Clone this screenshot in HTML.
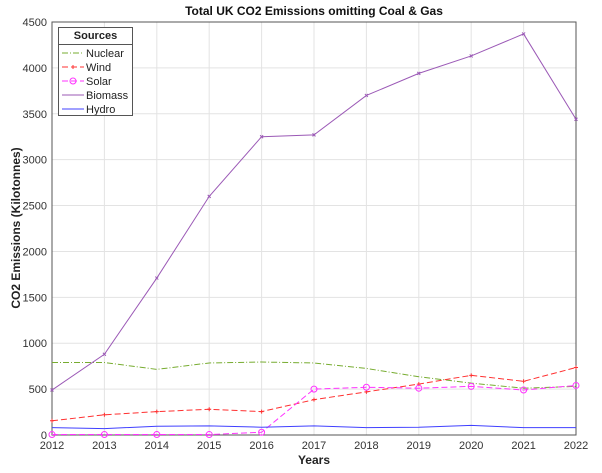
<!DOCTYPE html>
<html><head><meta charset="utf-8"><style>
body{margin:0;background:#fff;font-family:"Liberation Sans",Arial,sans-serif}
svg{display:block}
</style></head><body>
<svg id="chart" width="602" height="473"></svg>
<script>
const years=[2012,2013,2014,2015,2016,2017,2018,2019,2020,2021,2022];
const nuclear=[790,790,715,785,795,785,725,635,565,510,530];
const wind=[155,220,255,280,255,385,470,555,650,585,735];
const solar=[5,5,5,5,30,500,520,510,530,490,540];
const biomass=[490,880,1710,2600,3250,3270,3700,3940,4130,4370,3440];
const hydro=[80,70,95,100,85,100,80,85,105,80,80];
const yTicks=[0,500,1000,1500,2000,2500,3000,3500,4000,4500];
const L=52,R=576,T=22,B=435;
const xs=v=>L+(v-2012)/10*(R-L);
const ys=v=>B-v/4500*(B-T);
const NS="http://www.w3.org/2000/svg";
const svg=document.getElementById('chart');
function mk(tag,attrs,parent){const e=document.createElementNS(NS,tag);for(const k in attrs)e.setAttribute(k,attrs[k]);(parent||svg).appendChild(e);return e;}
const grid=mk('g',{});


years.forEach(y=>{mk('line',{x1:xs(y),x2:xs(y),y1:T,y2:B,stroke:'#e3e3e3','stroke-width':1},grid);
const t=mk('text',{x:xs(y),y:B+14,'text-anchor':'middle','font-size':11,fill:'#333'});t.textContent=y;

});
yTicks.forEach(v=>{mk('line',{x1:L,x2:R,y1:ys(v),y2:ys(v),stroke:'#e3e3e3','stroke-width':1},grid);
const t=mk('text',{x:L-5,y:ys(v)+4,'text-anchor':'end','font-size':11,fill:'#333'});t.textContent=v;

});
const frame=mk('rect',{x:L,y:T,width:R-L,height:B-T,fill:'none',stroke:'#555','stroke-width':1});


const series=[
 {name:'nuclear',d:nuclear,c:'#77ac30',dash:'6 2 1 2',m:null},
 {name:'wind',d:wind,c:'#ff3030',dash:'6 3',m:'star'},
 {name:'solar',d:solar,c:'#ff33ff',dash:'6 3',m:'circle'},
 {name:'biomass',d:biomass,c:'#9b59b6',dash:'',m:'x'},
 {name:'hydro',d:hydro,c:'#4040ff',dash:'',m:null}];
series.forEach(s=>{
 const g=mk('g',{});
 
 
 const pts=s.d.map((v,i)=>xs(years[i])+','+ys(v)).join(' ');
 mk('polyline',{points:pts,fill:'none',stroke:s.c,'stroke-width':1,'stroke-dasharray':s.dash},g);
 s.d.forEach((v,i)=>{const x=xs(years[i]),y=ys(v);
  if(s.m==='circle')mk('circle',{cx:x,cy:y,r:3,fill:'none',stroke:s.c},g);
  else if(s.m==='star'){mk('path',{d:`M${x-2},${y}h4M${x},${y-2}v4`,stroke:s.c},g);}
  else if(s.m==='x'){mk('path',{d:`M${x-1.5},${y-1.5}l3,3M${x+1.5},${y-1.5}l-3,3`,stroke:s.c},g);}
 });
});
</script>
<div style="position:absolute;left:58px;top:27px;width:73px;height:87px;border:1px solid #555;background:#fff;font-size:11px;color:#222">
<div style="font-weight:bold;text-align:center;height:16px;line-height:16px;border-bottom:1px solid #555">Sources</div>
<svg width="73" height="70" style="position:absolute;left:0;top:17px">
<g><line x1="3" x2="25" y1="8" y2="8" stroke="#77ac30" stroke-dasharray="6 2 1 2"/><text x="27" y="12" font-size="11" fill="#222">Nuclear</text></g>
<g><line x1="3" x2="25" y1="22" y2="22" stroke="#ff3030" stroke-dasharray="6 3"/><path d="M12,22h4M14,20v4" stroke="#ff3030"/><text x="27" y="26" font-size="11" fill="#222">Wind</text></g>
<g><line x1="3" x2="25" y1="36" y2="36" stroke="#ff33ff" stroke-dasharray="6 3"/><circle cx="14" cy="36" r="3" fill="none" stroke="#ff33ff"/><text x="27" y="40" font-size="11" fill="#222">Solar</text></g>
<g><line x1="3" x2="25" y1="50" y2="50" stroke="#9b59b6"/><text x="27" y="54" font-size="11" fill="#222">Biomass</text></g>
<g><line x1="3" x2="25" y1="64" y2="64" stroke="#4040ff"/><text x="27" y="68" font-size="11" fill="#222">Hydro</text></g>
</svg></div>
<div style="position:absolute;left:52px;width:524px;top:4px;text-align:center;font-weight:bold;font-size:12px;color:#111">Total UK CO2 Emissions omitting Coal &amp; Gas</div>
<div style="position:absolute;left:52px;width:524px;top:453px;text-align:center;font-weight:bold;font-size:12px;color:#222">Years</div>
<div style="position:absolute;left:16px;top:228px;transform:translate(-50%,-50%) rotate(-90deg);white-space:nowrap;font-weight:bold;font-size:12px;color:#222">CO2 Emissions (Kilotonnes)</div>
</body></html>
